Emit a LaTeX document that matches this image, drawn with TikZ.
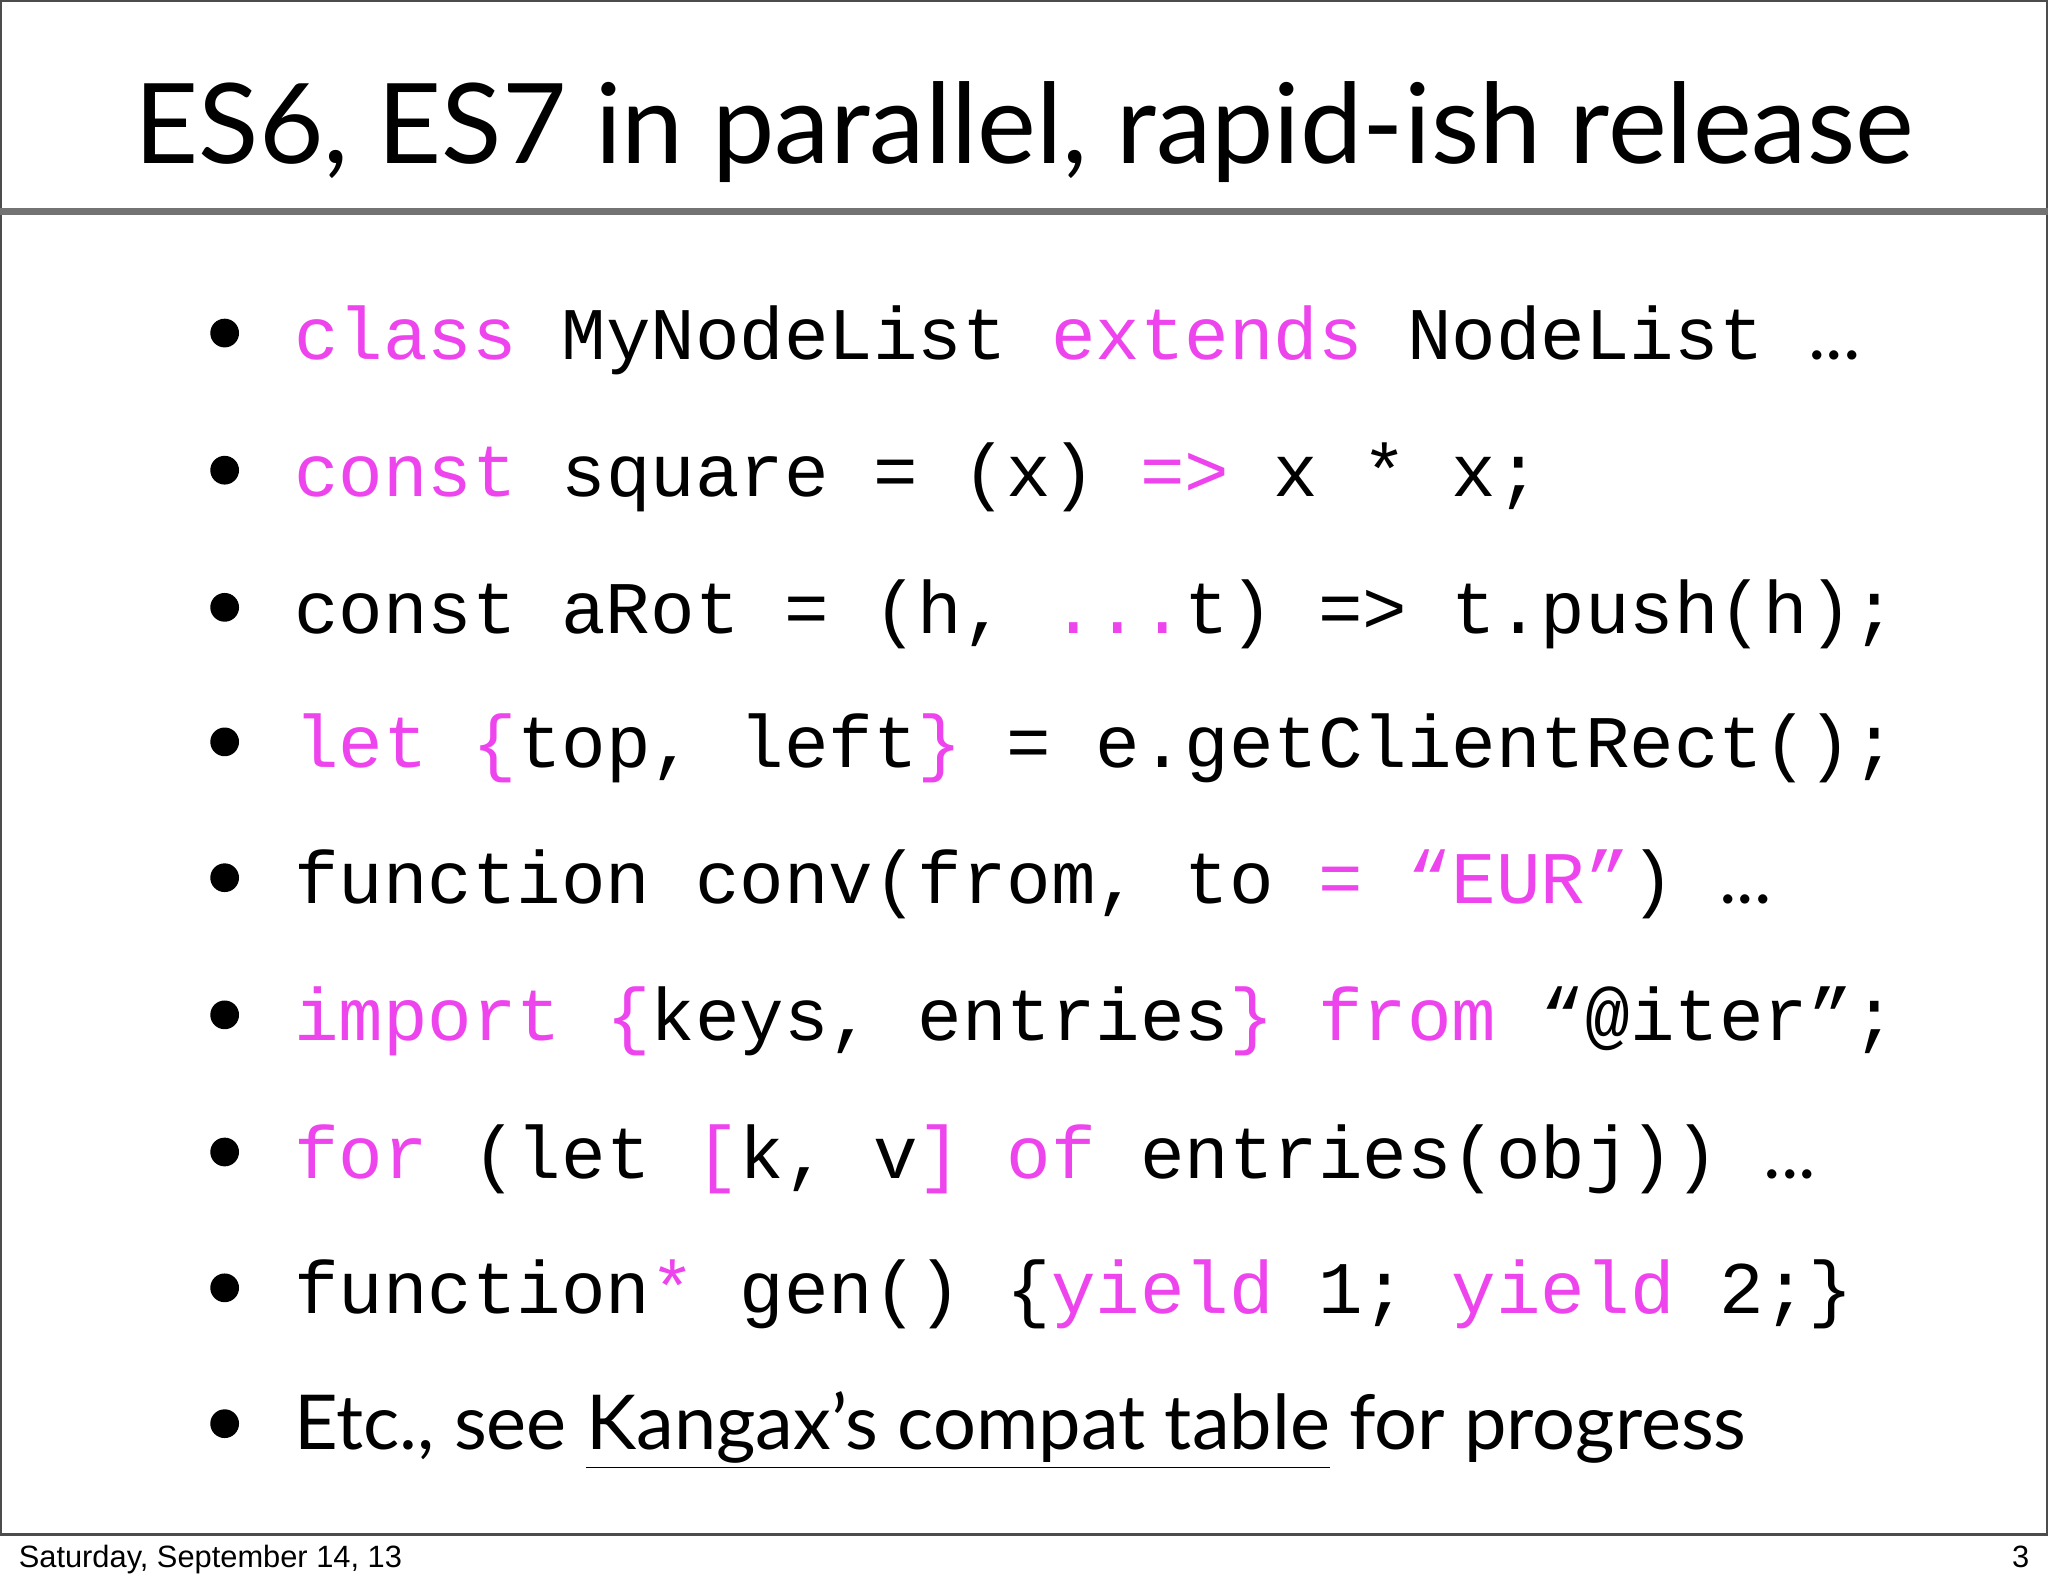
\documentclass[tikz,border=0pt]{standalone}
\usepackage{fontspec}
\setmainfont{Lato}
\setmonofont{Liberation Mono}
\definecolor{mag}{HTML}{EE44EE}
\newcommand{\kw}[1]{\textcolor{mag}{#1}}
\begin{document}
\begin{tikzpicture}[x=0.5bp,y=-0.5bp,
  code/.style={anchor=base west,inner sep=0,font=\fontsize{28.4bp}{30bp}\ttfamily},
  bul/.style={circle,fill=black,inner sep=0,minimum size=11bp}]
\useasboundingbox (0,0) rectangle (1568,1215);
\fill[white] (0,0) rectangle (1568,1215);
\draw[line width=1bp,black!70] (0.5,0.5) rectangle (1567.5,1175);
\draw[line width=2.5bp,black!55] (0,162) -- (1568,162);
\node[anchor=base,inner sep=0,font=\fontsize{42.6bp}{46bp}\selectfont] (title) at (784,125) {ES6, ES7 in parallel, rapid-ish release};
\foreach \i/\y in {1/275,2/380,3/485,4/588,5/692,6/797,7/902,8/1006,9/1110}
  \node[bul] (b\i) at (172,\y-20) {};
\node[code] (l1) at (225,275) {\kw{class}~MyNodeList~\kw{extends}~NodeList~{\rmfamily...}};
\node[code] (l2) at (225,380) {\kw{const}~square~=~(x)~\kw{=>}~x~*~x;};
\node[code] (l3) at (225,485) {const~aRot~=~(h,~\kw{...}t)~=>~t.push(h);};
\node[code] (l4) at (225,588) {\kw{let}~\kw{\{}top,~left\kw{\}}~=~e.getClientRect();};
\node[code] (l5) at (225,692) {function~conv(from,~to~\kw{=}~\kw{“EUR”})~{\rmfamily...}};
\node[code] (l6) at (225,797) {\kw{import}~\kw{\{}keys,~entries\kw{\}}~\kw{from}~“@iter”;};
\node[code] (l7) at (225,902) {\kw{for}~(let~\kw{[}k,~v\kw{]}~\kw{of}~entries(obj))~{\rmfamily...}};
\node[code] (l8) at (225,1006) {function\kw{*}~gen()~\{\kw{yield}~1;~\kw{yield}~2;\}};
\node[anchor=base west,inner sep=0,font=\fontsize{29bp}{33bp}\selectfont] (l9) at (225,1110) {Etc., see \underline{Kangax’s compat table} for progress};
\node[anchor=base west,inner sep=0,font=\fontsize{11.8bp}{13bp}\fontspec{Liberation Sans}] (date) at (14,1200) {Saturday, September 14, 13};
\node[anchor=base east,inner sep=0,font=\fontsize{11.8bp}{13bp}\fontspec{Liberation Sans}] (pg) at (1554,1200) {3};
\end{tikzpicture}
\end{document}
